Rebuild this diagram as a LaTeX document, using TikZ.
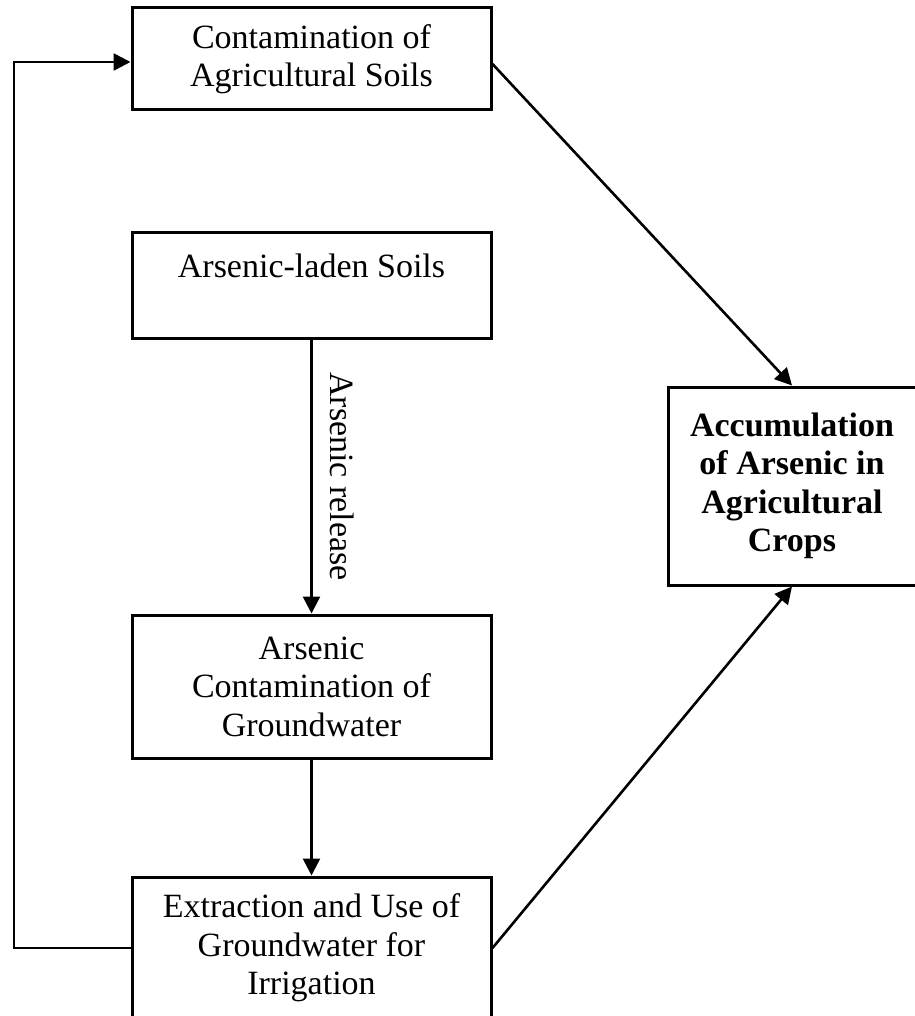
\documentclass[tikz,border=0pt]{standalone}
\usepackage{fontspec}
\setmainfont{Liberation Serif}
\usetikzlibrary{arrows.meta}
\begin{document}
\begin{tikzpicture}[x=1pt,y=-1pt,
  txt/.style={font=\fontsize{34}{38.5}\selectfont},
  box/.style={draw, line width=3pt, inner sep=0pt, align=center, txt},
  conn/.style={line width=2.6pt, -{Triangle[length=17pt,width=17pt]}}]
\useasboundingbox (0,0) rectangle (914,1016);
\node[box, minimum width=359pt, minimum height=102pt] (b1) at (311.5,59) {Contamination of\\Agricultural Soils};
\node[draw, line width=3pt, inner sep=0pt, txt, minimum width=359pt, text height=44pt, text depth=61pt, anchor=base] (b2) at (311.5,277) {Arsenic-laden Soils};
\node[box, minimum width=359pt, minimum height=143pt] (b3) at (311.5,686.5) {Arsenic\\Contamination of\\Groundwater};
\node[box, minimum width=359pt, minimum height=142pt] (b4) at (311.5,948) {Extraction and Use of\\Groundwater for\\Irrigation};
\node[box, minimum width=248pt, minimum height=198pt, font=\fontsize{34}{38.5}\selectfont\bfseries] (b5) at (792,486) {Accumulation\\of Arsenic in\\Agricultural\\Crops};
\draw[conn] ([yshift=-5pt]b1.east) -- (b5.north);
\draw[conn] (b4.east) -- (b5.south);
\draw[conn] (b2.south) -- node[midway, xshift=31pt, rotate=-90, txt] (lbl) {Arsenic release} (b3.north);
\draw[conn] (b3.south) -- (b4.north);
\coordinate (lp) at (14,948);
\draw[conn] (b4.west) -- (lp) |- ([yshift=-3pt]b1.west);
\end{tikzpicture}
\end{document}
